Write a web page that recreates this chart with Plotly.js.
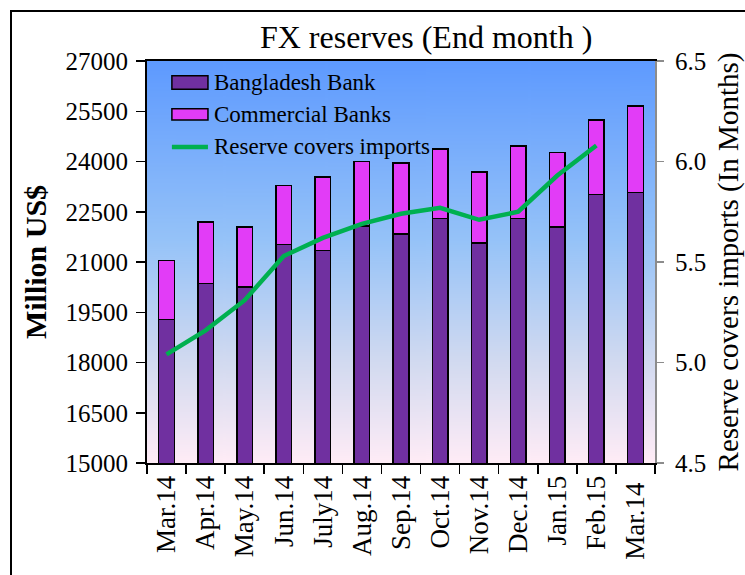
<!DOCTYPE html>
<html>
<head>
<meta charset="utf-8">
<script src="https://cdn.plot.ly/plotly-3.0.1.min.js"></script>
<style>
  html, body { margin: 0; padding: 0; background: #fff; overflow: hidden; }
  #frame { position: absolute; left: 10px; top: 10px; width: 760px; height: 600px; border: 2px solid #000; box-sizing: border-box; }
  #chart { position: absolute; left: 0; top: 0; width: 745px; height: 575px; }
</style>
</head>
<body>
<div id="frame"></div>
<div id="chart"></div>
<script>
const months = ["Mar.14","Apr.14","May.14","Jun.14","July14","Aug.14","Sep.14","Oct.14","Nov.14","Dec.14","Jan.15","Feb.15","Mar.14 "];
const bangladeshBank = [19290, 20360, 20260, 21520, 21350, 22070, 21840, 22300, 21570, 22300, 22040, 23010, 23080];
const commercialBanks = [1750, 1830, 1780, 1760, 2190, 1930, 2120, 2070, 2110, 2170, 2230, 2230, 2580];
const reserveCover = [5.04, 5.16, 5.31, 5.53, 5.62, 5.69, 5.74, 5.77, 5.71, 5.75, 5.93, 6.08, null];
const seriesNames = ["Bangladesh Bank", "Commercial Banks", "Reserve covers imports"];
const colors = { bb: '#7030a0', cb: '#e23cf7', line: '#00b050' };

function gradientURL() {
  const c = document.createElement('canvas');
  c.width = 10; c.height = 400;
  const g = c.getContext('2d');
  const lg = g.createLinearGradient(0, 0, 0, 400);
  lg.addColorStop(0, 'rgb(94,154,255)');
  lg.addColorStop(0.45, 'rgb(150,195,248)');
  lg.addColorStop(0.75, 'rgb(210,218,240)');
  lg.addColorStop(1, 'rgb(255,236,246)');
  g.fillStyle = lg; g.fillRect(0, 0, 10, 400);
  return c.toDataURL();
}

const serif = "Liberation Serif";

const traces = [
  { type: 'bar', name: seriesNames[0], x: months, y: bangladeshBank,
    marker: { color: colors.bb, line: { color: '#000', width: 1.5 } } },
  { type: 'bar', name: seriesNames[1], x: months, y: commercialBanks,
    marker: { color: colors.cb, line: { color: '#000', width: 1.5 } } },
  { type: 'scatter', mode: 'lines', name: seriesNames[2], x: months, y: reserveCover,
    yaxis: 'y2', line: { color: colors.line, width: 4.5 } }
];

// custom legend (wide rectangle swatches like the original)
const lgX0 = 0.049, lgX1 = 0.120, lgTx = 0.128;
const shapes = [
  { type: 'rect', xref: 'paper', yref: 'paper', x0: lgX0, x1: lgX1, y0: 0.930, y1: 0.963,
    fillcolor: colors.bb, line: { color: '#000', width: 1.5 } },
  { type: 'rect', xref: 'paper', yref: 'paper', x0: lgX0, x1: lgX1, y0: 0.853, y1: 0.881,
    fillcolor: colors.cb, line: { color: '#000', width: 1.5 } },
  { type: 'line', xref: 'paper', yref: 'paper', x0: lgX0, x1: lgX1, y0: 0.786, y1: 0.786,
    line: { color: colors.line, width: 4.5 } }
];
const legendY = [0.947, 0.868, 0.788];
const annotations = seriesNames.map((n, i) => ({
  text: n, xref: 'paper', yref: 'paper', x: lgTx, y: legendY[i], xanchor: 'left', yanchor: 'middle',
  showarrow: false, font: { family: serif, size: 23, color: '#000' }
}));

const layout = {
  width: 745, height: 575,
  margin: { l: 147, r: 90, t: 61, b: 112 },
  paper_bgcolor: 'rgba(0,0,0,0)',
  plot_bgcolor: 'rgba(0,0,0,0)',
  font: { family: serif, color: '#000', size: 24 },
  barmode: 'stack',
  bargap: 0.6,
  showlegend: false,
  title: { text: 'FX reserves (End month )', font: { family: serif, size: 32, color: '#000' },
           x: 0.572, xanchor: 'center', y: 0.936, yanchor: 'middle' },
  xaxis: { type: 'category', showline: true, linecolor: '#000', linewidth: 2, mirror: true,
           ticks: 'outside', tickson: 'boundaries', ticklen: 9, tickcolor: '#000', tickwidth: 1.5,
           tickangle: -90, tickfont: { family: serif, size: 27 }, showgrid: false },
  yaxis: { range: [15000, 27000], dtick: 1500, tick0: 15000, tickformat: 'd',
           showline: true, linecolor: '#000', linewidth: 2,
           ticks: 'outside', ticklen: 9, tickcolor: '#000', tickwidth: 1.5, showgrid: false, zeroline: false,
           tickfont: { family: serif, size: 25 }, ticklabelstandoff: 3,
           title: { text: '<b>Million US$</b>', font: { family: serif, size: 30 }, standoff: 10 } },
  yaxis2: { overlaying: 'y', side: 'right', range: [4.5, 6.5], dtick: 0.5, tick0: 4.5, tickformat: '.1f',
            showline: true, linecolor: '#8c8c8c', linewidth: 2, ticks: 'outside', ticklen: 7,
            tickcolor: '#8c8c8c', tickwidth: 1.5, showgrid: false, zeroline: false,
            tickfont: { family: serif, size: 25 }, ticklabelstandoff: 6,
            title: { text: 'Reserve covers imports (In Months)', font: { family: serif, size: 29 }, standoff: 13 } },
  shapes: shapes,
  annotations: annotations,
  images: [{ source: gradientURL(), xref: 'paper', yref: 'paper', x: 0, y: 1, sizex: 1, sizey: 1,
             sizing: 'stretch', xanchor: 'left', yanchor: 'top', layer: 'below' }]
};

Plotly.newPlot('chart', traces, layout, { displayModeBar: false, staticPlot: true });
</script>
</body>
</html>
